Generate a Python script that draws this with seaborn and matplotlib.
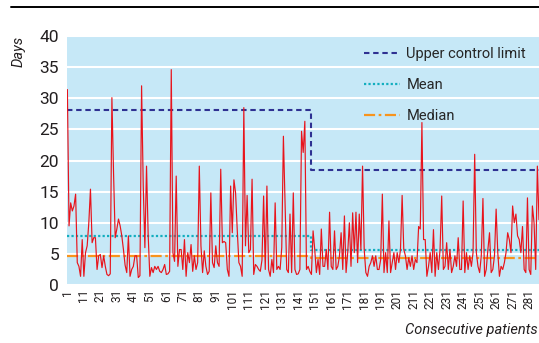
import numpy as np
import pandas as pd
import matplotlib
matplotlib.use("Agg")
import matplotlib.pyplot as plt
from matplotlib.lines import Line2D
import seaborn as sns

# waiting time (days) for each consecutive patient
days_part1 = [31.4, 9.5, 13.2, 11.9, 12.7, 14.6, 3.6, 3.0, 1.4, 7.3,
              1.4, 5.2, 6.3, 10.0, 15.4, 6.8, 7.6, 7.6, 2.5, 4.7,
              4.9, 2.8, 4.7, 3.0, 1.7, 1.5, 1.8, 30.1, 18.0, 7.6,
              9.0, 10.6, 9.5, 7.9, 5.7, 3.2, 2.0, 7.9, 1.4, 2.5,
              3.0, 4.7, 4.7, 1.2, 1.5, 32.0, 16.0, 6.0, 19.1, 8.0,
              1.4, 2.8, 2.0, 3.0, 2.5, 3.0, 2.2]
days_part2 = [2.0, 2.5, 3.3, 1.7, 1.8, 2.2, 34.6, 5.2, 3.8, 17.5,
              3.0, 5.7, 5.7, 2.5, 7.3, 1.4, 5.2, 3.6, 6.5, 2.2,
              4.7, 2.5, 3.6, 19.1, 6.3, 2.0, 5.5, 3.0, 1.7, 2.2,
              14.8, 3.6, 2.8, 6.3, 3.6, 3.0, 18.6, 6.8, 7.0, 6.8,
              2.5, 1.4, 15.9, 8.4, 16.9, 14.8, 8.9, 3.6, 3.0, 1.4,
              28.5, 6.3, 14.4, 5.2, 5.7, 17.0]
days_part3 = [1.7, 3.3, 3.0, 2.5, 2.2, 4.0, 14.3, 2.5, 15.9, 2.5,
              1.4, 4.1, 2.0, 13.2, 2.5, 3.0, 2.5, 6.0, 23.9, 13.2,
              2.5, 2.0, 11.4, 2.0, 14.8, 2.5, 1.7, 1.8, 2.5, 24.7,
              21.3, 26.3, 2.5, 3.0, 2.2]
days_part4 = [1.7, 8.7, 5.7, 2.0, 4.1, 1.7, 9.0, 3.0, 3.0, 5.7,
              2.5, 11.7, 3.0, 2.5, 8.7, 2.5, 3.0, 4.7, 8.4, 2.5,
              11.1, 2.0]
days_part5 = [5.2, 10.0, 3.0, 11.6, 5.2, 11.7, 3.6, 11.4, 5.7, 19.1,
              5.7, 2.0, 1.4, 3.0, 3.6, 4.7, 3.0, 4.7, 2.5, 2.5,
              4.1, 14.6, 2.0, 5.2, 2.0, 10.3, 2.0, 3.6, 5.2, 2.5,
              5.2, 3.6, 5.7, 14.4, 5.7, 4.7, 2.5, 4.4, 3.0, 4.7,
              2.5, 4.1, 3.6, 9.4, 9.0, 26.1, 7.3, 7.3, 1.4, 3.0,
              5.2, 2.0, 8.9, 1.4, 5.2, 2.5, 5.7, 14.3]
days_part6 = [2.5, 3.0, 6.8, 2.5, 5.7, 2.0, 3.0, 4.7, 3.0, 7.6,
              2.5, 2.5, 13.5, 2.0, 5.2, 2.5, 4.7, 3.0, 5.2, 21.0,
              5.2, 3.0, 2.0, 4.7, 13.9, 1.4, 2.5, 5.7, 8.4, 2.0,
              2.5, 4.7, 12.2, 5.2, 1.4, 3.0, 2.5, 3.6, 5.2, 8.4,
              7.3, 5.2, 12.7, 10.0, 11.4, 7.9, 7.3, 5.2, 9.4, 2.5,
              2.0, 14.0, 2.5, 1.7, 12.7, 10.0, 2.5, 19.1, 10.5]

days = days_part1 + days_part2 + days_part3 + days_part4 + days_part5 + days_part6
patients = np.arange(1, len(days) + 1)

# process change after this patient
phase_end = 148
ucl_values = [28.1, 18.4]
mean_values = [7.85, 5.6]
median_values = [4.7, 4.4]

x_ticks = list(range(1, 282, 10))
y_ticks = [0, 5, 10, 15, 20, 25, 30, 35, 40]

df = pd.DataFrame({"patient": patients, "days": days})
first = patients <= phase_end
df["ucl"] = np.where(first, ucl_values[0], ucl_values[1])
df["mean"] = np.where(first, mean_values[0], mean_values[1])
df["median"] = np.where(first, median_values[0], median_values[1])

sns.set_style("white")
plt.rcParams["font.family"] = ["Roboto", "DejaVu Sans"]

fig = plt.figure(figsize=(5.39, 3.43), dpi=100)
ax = fig.add_axes([0.125, 0.169, 0.875, 0.726])
ax.set_facecolor("#c6e8f7")

sns.lineplot(data=df, x="patient", y="median", ax=ax, color="#f7941d", lw=1.6,
             linestyle=(0, (5, 1.6, 1.2, 1.6)), drawstyle="steps-mid", label="Median")
sns.lineplot(data=df, x="patient", y="mean", ax=ax, color="#13aebf", lw=1.6,
             linestyle=(0, (1, 1)), drawstyle="steps-mid", label="Mean")
sns.lineplot(data=df, x="patient", y="ucl", ax=ax, color="#2e3192", lw=1.5,
             linestyle=(0, (2.6, 1.8)), drawstyle="steps-mid", label="Upper control limit")
sns.lineplot(data=df, x="patient", y="days", ax=ax, color="#e8141c", lw=0.85)

ax.set_xlim(1, len(days))
ax.set_ylim(0, 40)
ax.set_yticks(y_ticks)
ax.set_yticklabels([str(v) for v in y_ticks], fontsize=12.5, color="#231f20")
ax.set_xticks(x_ticks)
ax.set_xticklabels([str(v) for v in x_ticks], rotation=90, fontsize=8.5, color="#231f20")
ax.tick_params(axis="x", direction="in", length=4, width=1.2, color="white", pad=3)
ax.tick_params(axis="y", length=0, pad=6)
ax.yaxis.grid(True, color="white", lw=1.5)
ax.set_axisbelow(True)
for s in ax.spines.values():
    s.set_visible(False)
ax.set_xlabel("")
ax.set_ylabel("")

h, l = ax.get_legend_handles_labels()
order = ["Upper control limit", "Mean", "Median"]
hh = [h[l.index(o)] for o in order]
ax.legend(hh, order, loc="upper right", bbox_to_anchor=(1.0, 1.008), frameon=False,
          fontsize=10.5, handlelength=2.5, handletextpad=0.4, labelspacing=1.16)

fig.text(0.035, 0.895, "Days", rotation=90, style="italic", fontsize=10.5,
         ha="center", va="top", color="#231f20")
fig.text(0.998, 0.038, "Consecutive patients", style="italic", fontsize=10.5,
         ha="right", va="center", color="#231f20")
fig.add_artist(Line2D([0.02, 1.0], [0.979, 0.979], color="black", lw=1.4))

fig.savefig("out.png", dpi=100)
